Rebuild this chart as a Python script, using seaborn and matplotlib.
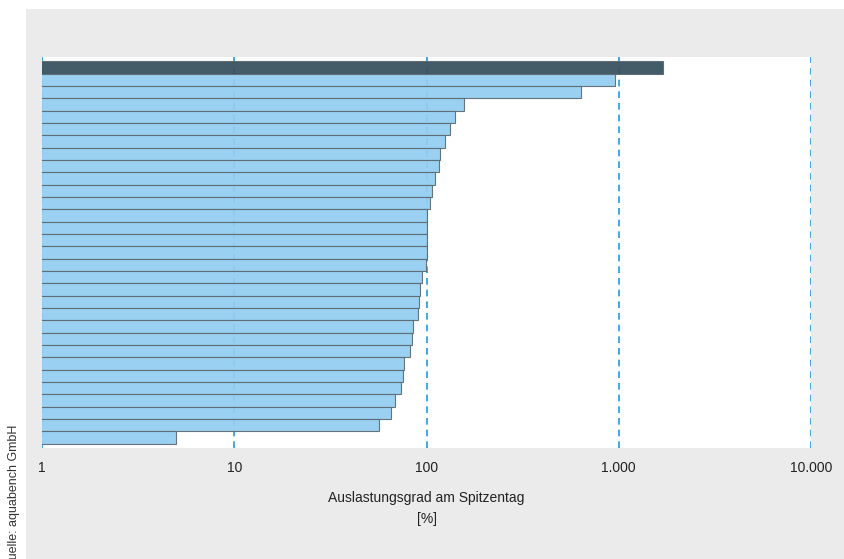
import pandas as pd
import numpy as np
import matplotlib
matplotlib.use("Agg")
import matplotlib.pyplot as plt
from matplotlib import font_manager
from matplotlib.patches import Rectangle
from matplotlib.ticker import FixedLocator, FixedFormatter, NullLocator
import seaborn as sns

# Auslastungsgrad am Spitzentag [%], sortiert
werte = [1700, 957, 636, 156, 141, 133, 125, 118, 116, 111,
         107, 104, 101, 100.4, 100, 100, 99.8, 95, 92.7, 90.9,
         89.8, 85.2, 84.5, 82.2, 76.2, 75.9, 73.8, 68.9, 65.5, 56.9,
         5.0]
gruppe = ["hervorgehoben"] + ["andere"] * (len(werte) - 1)
x_ticks = [1, 10, 100, 1000, 10000]
x_ticklabels = ["1", "10", "100", "1.000", "10.000"]
x_label = "Auslastungsgrad am Spitzentag\n[%]"
quelle = "Quelle: aquabench GmbH"

df = pd.DataFrame({
    "rang": [str(i + 1) for i in range(len(werte))],
    "wert": werte,
    "gruppe": gruppe,
})

sns.set_style("white")
installed = {f.name for f in font_manager.fontManager.ttflist}
if "Liberation Sans Narrow" in installed:
    schrift, fs = "Liberation Sans Narrow", 11.5
else:
    schrift, fs = "Liberation Sans", 10
plt.rcParams["font.family"] = [schrift, "DejaVu Sans"]

W, H = 844, 559
fig = plt.figure(figsize=(W / 100, H / 100), dpi=100)
fig.patch.set_facecolor("white")
# grauer Hintergrund
fig.patches.append(Rectangle((26 / W, 0), 1 - 26 / W, 1 - 9 / H,
                             transform=fig.transFigure, facecolor="#ebebeb",
                             edgecolor="none", zorder=-10))

ax = fig.add_axes([42 / W, (H - 448) / H, (811 - 42) / W, (448 - 57) / H])
ax.set_facecolor("white")

sns.barplot(data=df, x="wert", y="rang", hue="gruppe",
            palette={"hervorgehoben": "#34505c", "andere": "#92cdf1"},
            orient="h", width=1.0, dodge=False, legend=False, saturation=1,
            edgecolor="#5f6a70", linewidth=0.8, alpha=0.93,
            ax=ax, zorder=2)
ax.set_xscale("log")

ax.set_xlim(1, 10000)
ax.set_ylim(len(werte) - 0.5 + 0.34, -0.5 - 0.34)

for xv in x_ticks:
    ax.axvline(xv, color="#1e9be0", linestyle=(0, (4, 3)), linewidth=1.2, zorder=1)

ax.xaxis.set_major_locator(FixedLocator(x_ticks))
ax.xaxis.set_major_formatter(FixedFormatter(x_ticklabels))
ax.xaxis.set_minor_locator(NullLocator())
ax.tick_params(axis="x", length=0, pad=9, labelsize=fs, labelcolor="#222222")
ax.set_yticks([])
ax.set_ylabel("")
ax.set_xlabel(x_label, fontsize=fs, color="#222222", labelpad=12, linespacing=1.6)
for s in ax.spines.values():
    s.set_visible(False)

fig.text(14 / W, (H - 425) / H, quelle, rotation=90, ha="center", va="top",
         fontsize=fs - 1, color="#333333")

fig.savefig("out.png", dpi=100)
